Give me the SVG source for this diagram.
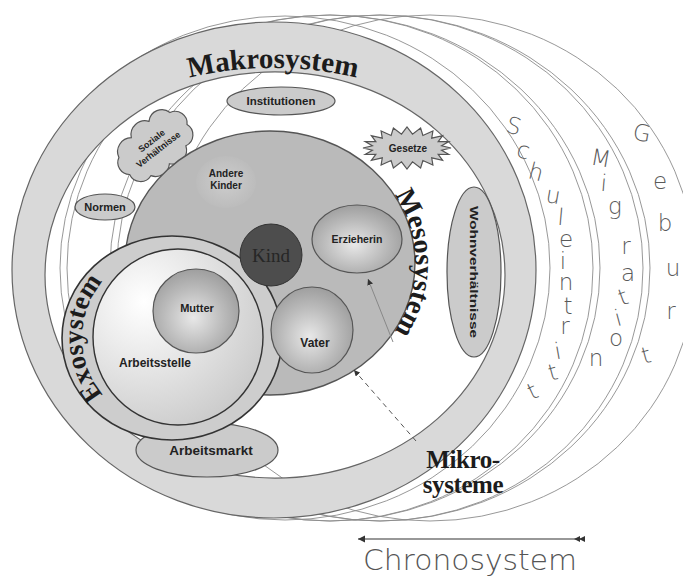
<svg xmlns="http://www.w3.org/2000/svg" width="683" height="580" viewBox="0 0 683 580">
<defs>
<style>
.chrono{fill:none;stroke:#8c8c8c;stroke-width:0.9}
.band{fill:#d9d9d9;stroke:#666;stroke-width:1.2;fill-rule:evenodd}
.pill{fill:#cbcbcb;stroke:#555;stroke-width:1.2}
.lbl{font-family:"Liberation Sans",Arial,sans-serif;font-weight:bold;fill:#222;text-anchor:middle}
.sys{font-family:"Liberation Serif","Times New Roman",serif;font-weight:bold;fill:#1c1c1c}
.chr{font-family:"DejaVu Sans","Liberation Sans",sans-serif;font-weight:200;fill:#5a5a5a;font-size:23px;text-anchor:middle}
.ball{stroke:#555;stroke-width:1.2}
</style>
<radialGradient id="gBall" cx="0.47" cy="0.58" r="0.6">
<stop offset="0" stop-color="#e8e8e8"/><stop offset="0.6" stop-color="#b9b9b9"/><stop offset="1" stop-color="#9c9c9c"/>
</radialGradient>
<radialGradient id="gExo" cx="0.3" cy="0.3" r="0.85">
<stop offset="0" stop-color="#ffffff"/><stop offset="1" stop-color="#c6c6c6"/>
</radialGradient>
<radialGradient id="gPill" cx="0.5" cy="0.5" r="0.6">
<stop offset="0" stop-color="#e2e2e2"/><stop offset="1" stop-color="#bdbdbd"/>
</radialGradient>
<radialGradient id="gFaint" cx="0.5" cy="0.5" r="0.5">
<stop offset="0" stop-color="#cdcdcd"/><stop offset="1" stop-color="#bcbcbc"/>
</radialGradient>
<marker id="ah" viewBox="0 0 10 10" refX="10" refY="5" markerWidth="6" markerHeight="6" orient="auto"><path d="M0,0 L10,5 L0,10 z" fill="#333"/></marker>
<path id="pMakro" d="M 90,117 A 366,366 0 0 1 456,117"/>
<path id="pMeso" d="M 270,131 A 145,132 0 0 1 270,395"/>
<path id="pExo" d="M 114.1,405.4 A 90,88 0 0 1 114.1,270.6"/>
</defs>
<rect width="683" height="580" fill="#fff"/>

<g id="chronosystem-rings" class="chrono">
<ellipse cx="285" cy="268" rx="265" ry="252"/>
<ellipse cx="330" cy="268" rx="263" ry="253"/>
<ellipse cx="330" cy="268" rx="270" ry="253"/>
<ellipse cx="380" cy="268" rx="263" ry="253"/>
<ellipse cx="380" cy="268" rx="270" ry="253"/>
<ellipse cx="430" cy="268" rx="265" ry="253"/>
</g>

<g id="makrosystem">
<path class="band" d="M 12,270 a 262,248 0 1 0 524,0 a 262,248 0 1 0 -524,0 Z M 45,275 a 230,203 0 1 0 460,0 a 230,203 0 1 0 -460,0 Z"/>
<text class="sys" font-size="29"><textPath href="#pMakro" startOffset="50%" text-anchor="middle">Makrosystem</textPath></text>
</g>

<g id="institutionen"><ellipse class="pill" fill="url(#gPill)" cx="281" cy="101" rx="54" ry="14"/><text class="lbl" x="281" y="105" font-size="11.5">Institutionen</text></g>

<g id="gesetze"><polygon class="pill" fill="url(#gPill)" points="451,148 441.6,150.2 448.8,154.5 438.2,154.4 442.6,160.3 431.7,157.9 432.9,165 422.9,160.5 420.6,168 412.5,161.8 407,169 401.5,161.8 393.4,168 391.1,160.5 381.1,165 382.3,157.9 371.4,160.3 375.8,154.4 365.2,154.5 372.4,150.2 363,148 372.4,145.8 365.2,141.5 375.8,141.6 371.4,135.7 382.3,138.1 381.1,131 391.1,135.5 393.4,128 401.5,134.2 407,127 412.5,134.2 420.6,128 422.9,135.5 432.9,131 431.7,138.1 442.6,135.7 438.2,141.6 448.8,141.5 441.6,145.8"/><text class="lbl" x="408" y="152" font-size="10">Gesetze</text></g>

<g id="soziale-verhaeltnisse" transform="translate(155,142) rotate(-38)"><path class="pill" fill="url(#gPill)" d="M -40,10 a 12,12 0 0 1 2,-20 a 14,14 0 0 1 22,-8 a 14,14 0 0 1 24,-2 a 13,13 0 0 1 22,6 a 12,12 0 0 1 6,20 a 12,12 0 0 1 -14,16 a 14,14 0 0 1 -24,4 a 14,14 0 0 1 -22,-2 a 12,12 0 0 1 -16,-14 z"/><text class="lbl" x="-2" y="0" font-size="9">Soziale</text><text class="lbl" x="-2" y="11" font-size="9">Verhältnisse</text></g>

<g id="normen"><ellipse class="pill" fill="url(#gPill)" cx="105" cy="207" rx="30" ry="13"/><text class="lbl" x="105" y="211" font-size="11">Normen</text></g>

<g id="wohnverhaeltnisse"><ellipse class="pill" fill="#d6d6d6" cx="474" cy="272" rx="27" ry="85"/><text class="lbl" transform="translate(474,272) rotate(90)" x="0" y="4" font-size="11.5" textLength="132" lengthAdjust="spacingAndGlyphs">Wohnverhältnisse</text></g>

<g id="arbeitsmarkt"><ellipse class="pill" fill="#d8d8d8" cx="207" cy="450" rx="71" ry="27"/></g>

<g id="mesosystem">
<ellipse cx="270" cy="263" rx="145" ry="132" fill="#bababa" stroke="#555" stroke-width="1.4"/>
<text class="sys" font-size="28"><textPath href="#pMeso" startOffset="50%" text-anchor="middle">Mesosystem</textPath></text>
</g>

<g id="andere-kinder"><ellipse cx="226" cy="182" rx="30" ry="26" fill="url(#gFaint)"/><text class="lbl" x="226" y="177" font-size="10">Andere</text><text class="lbl" x="226" y="189" font-size="10">Kinder</text></g>

<g id="erzieherin"><ellipse class="ball" fill="url(#gBall)" cx="357" cy="239" rx="45" ry="34"/><text class="lbl" x="357" y="243" font-size="10.5">Erzieherin</text></g>

<g id="exosystem">
<ellipse cx="172" cy="338" rx="110" ry="102" fill="#cdcdcd" stroke="#333" stroke-width="1.6"/>
<text class="sys" font-size="27"><textPath href="#pExo" startOffset="50%" text-anchor="middle">Exosystem</textPath></text>
</g>

<g id="arbeitsstelle"><ellipse cx="178" cy="337" rx="85" ry="88" fill="url(#gExo)" stroke="#333" stroke-width="1.4"/><text class="lbl" x="155" y="367" font-size="12">Arbeitsstelle</text></g>

<g id="arbeitsmarkt-label"><text class="lbl" x="211" y="455" font-size="13.5">Arbeitsmarkt</text></g>

<g id="mutter"><ellipse class="ball" fill="url(#gBall)" cx="196" cy="311" rx="43" ry="42"/><text class="lbl" x="197" y="312" font-size="11">Mutter</text></g>

<g id="vater"><ellipse class="ball" fill="url(#gBall)" cx="312" cy="330" rx="41" ry="43"/><text class="lbl" x="315" y="347" font-size="12">Vater</text></g>

<g id="kind"><circle cx="271" cy="255" r="31" fill="#4d4d4d" stroke="#333" stroke-width="1"/><text x="271" y="262" font-family="Liberation Serif,serif" font-size="19" fill="#262626" text-anchor="middle">Kind</text></g>

<g id="connectors" fill="none" stroke="#555" stroke-width="1">
<line x1="393" y1="342" x2="368" y2="279" stroke="#888" marker-end="url(#ah)"/>
<line x1="416" y1="441" x2="354" y2="370" stroke-dasharray="5,4" marker-end="url(#ah)"/>
</g>

<g id="mikrosysteme"><text class="sys" x="463" y="468" font-size="25" text-anchor="middle" letter-spacing="-0.4">Mikro-</text><text class="sys" x="463" y="493" font-size="25" text-anchor="middle" letter-spacing="-0.4">systeme</text></g>

<g id="schuleintritt" class="chr">
<text x="514" y="134" transform="rotate(15 514 126)">S</text>
<text x="523" y="158" transform="rotate(15 523 152)">c</text>
<text x="536" y="180" transform="rotate(15 536 172)">h</text>
<text x="553" y="203" transform="rotate(10 553 197)">u</text>
<text x="561" y="225" transform="rotate(5 561 217)">l</text>
<text x="566" y="247">e</text>
<text x="563" y="269">i</text>
<text x="566" y="290">n</text>
<text x="568" y="314">t</text>
<text x="565" y="334">r</text>
<text x="558" y="359" transform="rotate(-10 558 352)">i</text>
<text x="553" y="380" transform="rotate(-15 553 373)">t</text>
<text x="533" y="399" transform="rotate(-25 533 392)">t</text>
</g>

<g id="migration" class="chr">
<text x="601" y="166" transform="rotate(10 601 158)">M</text>
<text x="604" y="191" transform="rotate(5 604 183)">i</text>
<text x="615" y="214">g</text>
<text x="626" y="254">r</text>
<text x="628" y="281">a</text>
<text x="623" y="305" transform="rotate(-20 623 297)">t</text>
<text x="618" y="326" transform="rotate(-15 618 318)">i</text>
<text x="616" y="346">o</text>
<text x="596" y="366">n</text>
</g>

<g id="geburt" class="chr">
<text x="642" y="141" transform="rotate(10 642 133)">G</text>
<text x="660" y="189">e</text>
<text x="665" y="231">b</text>
<text x="673" y="276">u</text>
<text x="671" y="319">r</text>
<text x="646" y="363" transform="rotate(-15 646 355)">t</text>
</g>

<g id="chronosystem">
<line x1="582" y1="539" x2="358" y2="539" stroke="#333" stroke-width="1.2" marker-end="url(#ah)"/>
<polygon points="574,539 580,536 580,542" fill="#333"/>
<polygon points="579,539 585,536 585,542" fill="#333"/>
<text x="470" y="570" font-family="DejaVu Sans,Liberation Sans,sans-serif" font-weight="200" font-size="28" fill="#555" text-anchor="middle" textLength="214" lengthAdjust="spacingAndGlyphs">Chronosystem</text>
</g>
</svg>
